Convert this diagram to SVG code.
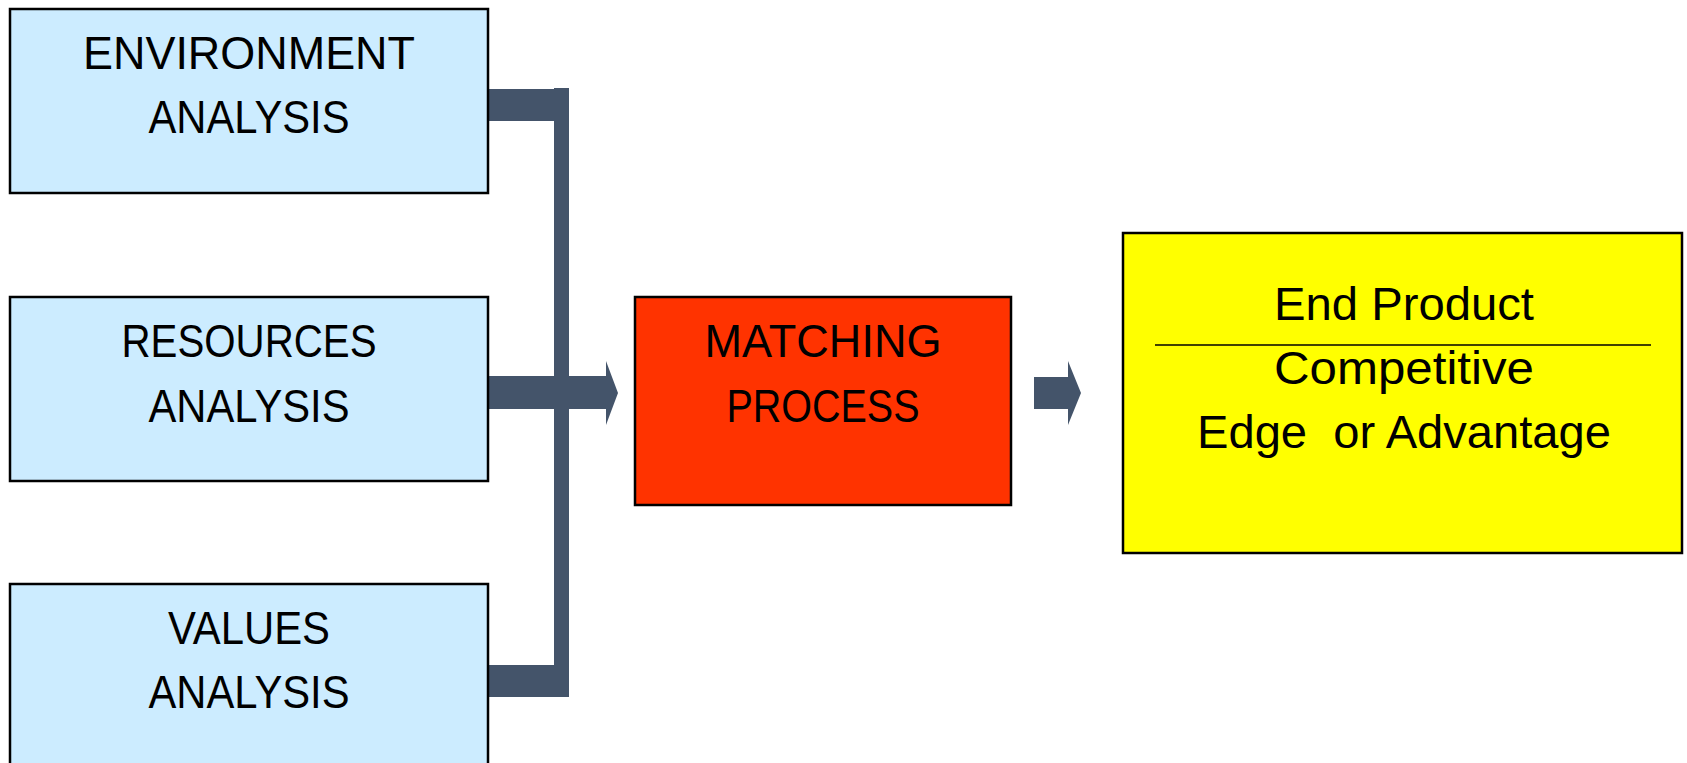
<svg xmlns="http://www.w3.org/2000/svg" width="1687" height="763" viewBox="0 0 1687 763">
  <style>
    .box { stroke: #000000; stroke-width: 2.5; }
    .blue { fill: #CCECFF; }
    .red { fill: #FF3300; }
    .yellow { fill: #FFFF00; }
    .lbl { font-family: "Liberation Sans", Arial, sans-serif; font-size: 46px; fill: #000000; text-anchor: middle; white-space: pre; }
    .conn { fill: #44546A; stroke: none; }
  </style>
  <rect x="0" y="0" width="1687" height="763" fill="#FFFFFF"/>

  <g id="connectors">
    <rect class="conn" x="488" y="89" width="81" height="32"/>
    <rect class="conn" x="554" y="88" width="15" height="609"/>
    <rect class="conn" x="488" y="665" width="81" height="32"/>
    <path class="conn" d="M488,376 L606,376 L606,361 L618,393 L606,425 L606,409 L488,409 Z"/>
    <path class="conn" d="M1034,377 L1068,377 L1068,361 L1081,393 L1068,425 L1068,409 L1034,409 Z"/>
  </g>

  <g id="environment">
    <rect class="box blue" x="10" y="9" width="478" height="184"/>
    <text class="lbl" x="249" y="68.5" textLength="332" lengthAdjust="spacingAndGlyphs">ENVIRONMENT</text>
    <text class="lbl" x="249" y="132.5" textLength="201" lengthAdjust="spacingAndGlyphs">ANALYSIS</text>
  </g>

  <g id="resources">
    <rect class="box blue" x="10" y="297" width="478" height="184"/>
    <text class="lbl" x="249" y="357" textLength="255" lengthAdjust="spacingAndGlyphs">RESOURCES</text>
    <text class="lbl" x="249" y="421.5" textLength="201" lengthAdjust="spacingAndGlyphs">ANALYSIS</text>
  </g>

  <g id="values">
    <rect class="box blue" x="10" y="584" width="478" height="200"/>
    <text class="lbl" x="249" y="643.5" textLength="162" lengthAdjust="spacingAndGlyphs">VALUES</text>
    <text class="lbl" x="249" y="708" textLength="201" lengthAdjust="spacingAndGlyphs">ANALYSIS</text>
  </g>

  <g id="matching">
    <rect class="box red" x="635" y="297" width="376" height="208"/>
    <text class="lbl" x="823" y="357" textLength="237" lengthAdjust="spacingAndGlyphs">MATCHING</text>
    <text class="lbl" x="823" y="421.5" textLength="193" lengthAdjust="spacingAndGlyphs">PROCESS</text>
  </g>

  <g id="endproduct">
    <rect class="box yellow" x="1123" y="233" width="559" height="320"/>
    <text class="lbl" x="1404" y="319.5" textLength="260" lengthAdjust="spacingAndGlyphs">End Product</text>
    <line x1="1155" y1="345" x2="1651" y2="345" stroke="#000000" stroke-width="1.5"/>
    <text class="lbl" x="1404" y="383.5" textLength="260" lengthAdjust="spacingAndGlyphs">Competitive</text>
    <text class="lbl" x="1404" y="447.5" xml:space="preserve" textLength="414" lengthAdjust="spacingAndGlyphs">Edge  or Advantage</text>
  </g>
</svg>
